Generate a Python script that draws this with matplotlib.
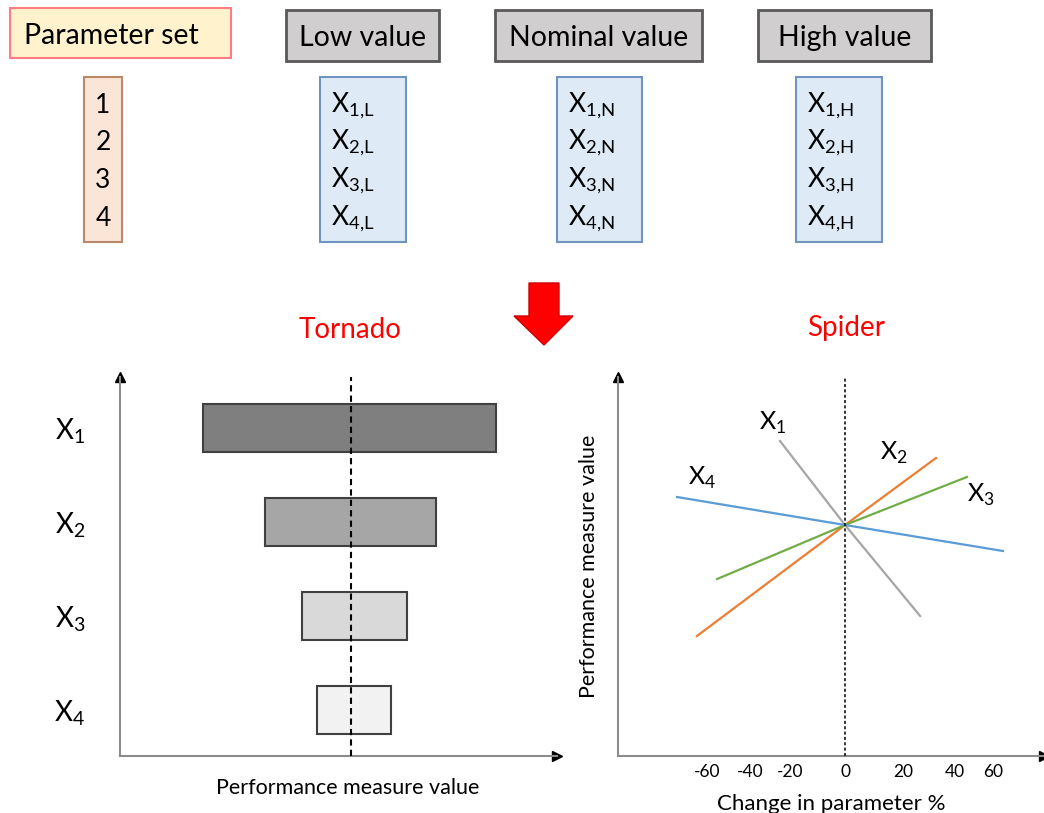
import matplotlib
matplotlib.use("Agg")
import matplotlib.pyplot as plt
from matplotlib.patches import Rectangle, Polygon

plt.rcParams['font.family'] = ['Lato', 'DejaVu Sans']

W, H = 1044, 813

# top table
header_labels = ["Low value", "Nominal value", "High value"]
header_suffix = ["L", "N", "H"]
param_ids = ["1", "2", "3", "4"]

# tornado: performance measure at low / high parameter value (nominal = 0)
tornado_params = ["X$_\\mathregular{1}$", "X$_\\mathregular{2}$", "X$_\\mathregular{3}$", "X$_\\mathregular{4}$"]
tornado_low = [-14.8, -8.6, -4.9, -3.4]
tornado_high = [14.5, 8.5, 5.6, 4.0]
tornado_colors = ["#7f7f7f", "#a6a6a6", "#d9d9d9", "#f2f2f2"]

# spider: change in parameter % vs performance measure
spider_names = ["X$_\\mathregular{1}$", "X$_\\mathregular{2}$", "X$_\\mathregular{3}$", "X$_\\mathregular{4}$"]
spider_x = [[-27.1, 0, 31.3], [-61.7, 0, 37.9], [-53.3, 0, 50.8], [-70.0, 0, 65.8]]
spider_y = [[8.4, 0, -9.1], [-11.1, 0, 6.7], [-5.4, 0, 4.8], [2.8, 0, -2.6]]
spider_colors = ["#a5a5a5", "#ed7d31", "#70ad47", "#5b9bd5"]
spider_ticks = [-57.5, -39.6, -22.9, 0, 24.2, 45.8, 61.7]
spider_ticklabels = ["-60", "-40", "-20", "0", "20", "40", "60"]


def frac(x0, y0, x1, y1):
    # pixel box (top-left origin) -> figure fraction rect
    return [x0 / W, 1 - y1 / H, (x1 - x0) / W, (y1 - y0) / H]


fig = plt.figure(figsize=(W / 100, H / 100), dpi=100)
ax0 = fig.add_axes([0, 0, 1, 1])
ax0.set_xlim(0, W)
ax0.set_ylim(H, 0)
ax0.axis("off")

# header boxes
ax0.add_patch(Rectangle((10, 8), 221, 50, facecolor="#fff2cc", edgecolor="#ff7c80", lw=1.5))
ax0.text(111, 44, "Parameter set", fontsize=20.5, ha="center", va="baseline")
header_box = [(286, 439), (495, 702), (758, 931)]
for (x0, x1), lab in zip(header_box, header_labels):
    ax0.add_patch(Rectangle((x0, 10), x1 - x0, 51, facecolor="#d0cece", edgecolor="#595959", lw=2))
    ax0.text((x0 + x1) / 2, 46, lab, fontsize=20.5, ha="center", va="baseline")

# parameter id column
baselines = [113, 150, 188, 226]
ax0.add_patch(Rectangle((84, 77), 38, 165, facecolor="#fbe5d6", edgecolor="#b98a69", lw=1.5))
for b, pid in zip(baselines, param_ids):
    ax0.text(103, b, pid, fontsize=19, ha="center", va="baseline")

# value columns
value_box = [(320, 406), (557, 642), (796, 882)]
for (x0, x1), suf in zip(value_box, header_suffix):
    ax0.add_patch(Rectangle((x0, 77), x1 - x0, 165, facecolor="#deebf7", edgecolor="#7094bf", lw=1.5))
    for i, b in enumerate(baselines):
        ax0.text(x0 + 11, b - 1, "X$_\\mathregular{%d{,}%s}$" % (i + 1, suf), fontsize=19,
                 ha="left", va="baseline")

# red arrow
ax0.add_patch(Polygon([(529, 283), (559, 283), (559, 316), (573, 316), (544, 345),
                       (514, 316), (529, 316)], closed=True,
                      facecolor="#ff0000", edgecolor="#d00000", lw=1))

ax0.text(350, 330, "Tornado", fontsize=20, color="#ff0000", ha="center", va="center")
ax0.text(846, 328, "Spider", fontsize=20, color="#ff0000", ha="center", va="center")

# ---- tornado
ax1 = fig.add_axes(frac(120, 377, 557, 756))
ax1.patch.set_alpha(0)
ypos = list(range(len(tornado_params)))
widths = [h - l for l, h in zip(tornado_low, tornado_high)]
ax1.barh(ypos, widths, left=tornado_low, height=0.51, color=tornado_colors,
         edgecolor="#404040", lw=1.5, zorder=2)
ax1.axvline(0, color="black", ls=(0, (3, 2)), lw=1.5, zorder=3)
ax1.set_xlim(-23.1, 20.6)
ax1.set_ylim(3.49, -0.54)
ax1.set_yticks(ypos)
ax1.set_yticklabels(tornado_params, fontsize=20)
ax1.set_xticks([])
ax1.tick_params(axis="y", length=0, pad=25)
ax1.set_xlabel("Performance measure value", fontsize=15.5, labelpad=16)
ax1.xaxis.label.set_x(0.52)

# ---- spider
ax2 = fig.add_axes(frac(618, 377, 1044, 756))
ax2.patch.set_alpha(0)
for xs, ys, c, name in zip(spider_x, spider_y, spider_colors, spider_names):
    ax2.plot(xs, ys, color=c, lw=1.6, zorder=2)
ax2.axvline(0, color="black", ls=(0, (2, 1.5)), lw=1.1, zorder=3)
label_anchor = [(0, (-5, 13)), (2, (-30, 4)), (2, (10, -13)), (0, (18, 14))]
for (idx, off), xs, ys, name in zip(label_anchor, spider_x, spider_y, spider_names):
    ax2.annotate(name, xy=(xs[idx], ys[idx]), xytext=off, textcoords="offset points",
                 fontsize=18, ha="center", va="center")
ax2.set_xlim(-94.6, 82.9)
ax2.set_ylim(-23.1, 14.8)
ax2.set_xticks(spider_ticks)
ax2.set_xticklabels(spider_ticklabels, fontsize=12.5)
ax2.set_yticks([])
ax2.tick_params(axis="x", length=0, pad=6)
ax2.set_xlabel("Change in parameter %", fontsize=16, labelpad=10)
ax2.set_ylabel("Performance measure value", fontsize=15.5, labelpad=14)

for ax in (ax1, ax2):
    for s in ("top", "right"):
        ax.spines[s].set_visible(False)
    for s in ("left", "bottom"):
        ax.spines[s].set_color("#8c8c8c")
        ax.spines[s].set_linewidth(1.5)
    ax.plot([0], [1], marker="^", color="black", ms=7, transform=ax.transAxes, clip_on=False)
    ax.plot([1], [0], marker=">", color="black", ms=7, transform=ax.transAxes, clip_on=False)

fig.savefig("out.png", dpi=100)
